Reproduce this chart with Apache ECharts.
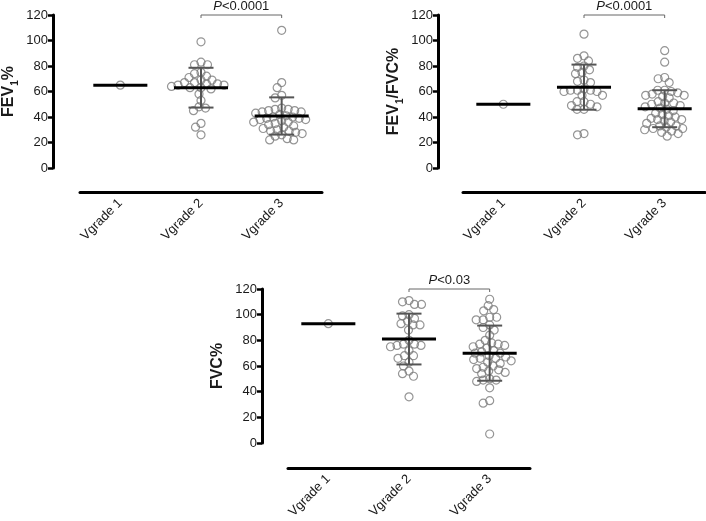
<!DOCTYPE html>
<html><head><meta charset="utf-8">
<script src="https://cdn.jsdelivr.net/npm/echarts@6/dist/echarts.min.js"></script>
<style>html,body{margin:0;padding:0;background:#fff}#c{width:706px;height:521px}</style>
</head><body><div id="c"></div><script>
// ---------- data ----------
const categories = ['Vgrade 1', 'Vgrade 2', 'Vgrade 3'];
const yMin = 0, yMax = 120, yStep = 20;

// FEV1%
const fev1G1 = [65];
const fev1G2 = [99, 83, 81, 81, 75, 74, 72, 71, 69, 69, 67, 67, 66, 66, 65, 65, 64, 63, 63, 62, 58, 53, 48, 47, 45, 35, 32, 26];
const fev1G3 = [108, 67, 63, 57, 55, 47, 46, 46, 45, 45, 44, 44, 43, 42, 41, 40, 40, 39, 39, 38, 38, 37, 36, 36, 35, 34, 33, 32, 31, 30, 29, 29, 28, 27, 26, 25, 23, 22, 22];
const fev1Mean = [65, 63.0, 40.8];
const fev1SD = [0, 15.6, 14.6];

// FEV1/FVC%
const ratioG1 = [50];
const ratioG2 = [105, 88, 86, 84, 80, 79, 77, 75, 74, 69, 68, 67, 62, 61, 61, 61, 60, 60, 57, 57, 52, 52, 50, 49, 48, 46, 46, 27, 26];
const ratioG3 = [92, 83, 71, 70, 67, 61, 61, 60, 59, 58, 57, 57, 56, 55, 52, 51, 51, 50, 49, 48, 47, 46, 45, 43, 42, 41, 40, 39, 38, 38, 37, 36, 35, 33, 33, 32, 31, 31, 30, 29, 28, 27, 25];
const ratioMean = [50, 63.4, 46.5];
const ratioSD = [0, 17.7, 14.5];

// FVC%
const fvcG1 = [93];
const fvcG2 = [111, 110, 108, 108, 100, 99, 97, 95, 93, 92, 92, 88, 80, 77, 77, 76, 76, 75, 72, 68, 68, 66, 63, 60, 56, 54, 52, 36];
const fvcG3 = [112, 107, 104, 103, 98, 98, 96, 96, 92, 90, 88, 84, 80, 78, 77, 77, 76, 75, 74, 72, 71, 70, 70, 68, 67, 66, 66, 65, 64, 63, 62, 60, 59, 58, 57, 56, 55, 54, 50, 49, 49, 48, 43, 33, 31, 7];
const fvcMean = [93, 81.0, 70.0];
const fvcSD = [0, 19.8, 21.5];

const pLabels = ['<0.0001', '<0.0001', '<0.03'];
const yTitles = ['{b|FEV}{s|1}{b|%}', '{b|FEV}{s|1}{b|/FVC%}', '{b|FVC%}'];

// ---------- layout ----------
const FONT = 'Liberation Sans, Arial, Helvetica, sans-serif';
const TXT = '#1a1a1a';
const panels = [
  { groups: [fev1G1, fev1G2, fev1G3], mean: fev1Mean, sd: fev1SD, grid: { left: 80, top: 15, width: 242, height: 153 }, yOff: 27, xOff: 24 },
  { groups: [ratioG1, ratioG2, ratioG3], mean: ratioMean, sd: ratioSD, grid: { left: 463, top: 15, width: 242, height: 153 }, yOff: 25, xOff: 24 },
  { groups: [fvcG1, fvcG2, fvcG3], mean: fvcMean, sd: fvcSD, grid: { left: 288, top: 289, width: 242, height: 155 }, yOff: 26, xOff: 25 }
];

// beeswarm placement (computed, not typed)
function swarm(values, gi, pxY, pxX, diam) {
  const placed = [], out = [];
  const sorted = values.slice().sort((a, b) => b - a);
  for (const v of sorted) {
    const y = v * pxY;
    let off = 0;
    for (let k = 0; k < 2000; k++) {
      const cand = (k % 2 === 0 ? 1 : -1) * Math.ceil(k / 2) * 0.5;
      if (placed.every(p => (p.x - cand) ** 2 + (p.y - y) ** 2 >= diam * diam)) { off = cand; break; }
    }
    placed.push({ x: off, y });
    out.push([gi + off / pxX, v]);
  }
  return out;
}

const grid = [], xAxis = [], yAxis = [], series = [];
panels.forEach((p, i) => {
  grid.push(p.grid);
  xAxis.push({
    type: 'category', gridIndex: i, data: categories, offset: p.xOff,
    axisLine: { onZero: false, lineStyle: { color: '#000', width: 3 } },
    axisTick: { alignWithLabel: true, length: 6, lineStyle: { color: '#000', width: 2.5 } },
    axisLabel: { rotate: 45, fontSize: 13, color: TXT, fontFamily: FONT, margin: 9 },
    splitLine: { show: false }
  });
  xAxis.push({ type: 'value', gridIndex: i, min: -0.5, max: 2.5, show: false, splitLine: { show: false } });
  yAxis.push({
    type: 'value', gridIndex: i, min: yMin, max: yMax, interval: yStep, offset: p.yOff,
    name: yTitles[i], nameLocation: 'middle', nameGap: 36,
    nameTextStyle: {
      rich: {
        b: { fontSize: 16, fontWeight: 'bold', color: TXT, fontFamily: FONT },
        s: { fontSize: 10, fontWeight: 'bold', color: TXT, fontFamily: FONT, verticalAlign: 'bottom', padding: [0, 0, -3, 0] }
      }
    },
    axisLine: { show: true, onZero: false, lineStyle: { color: '#000', width: 3 } },
    axisTick: { show: true, length: 5, lineStyle: { color: '#000', width: 2.5 } },
    axisLabel: { fontSize: 13, color: TXT, fontFamily: FONT, margin: 5 },
    splitLine: { show: false }
  });
  const pxY = p.grid.height / (yMax - yMin);
  const pxX = p.grid.width / categories.length;
  const pts = [];
  p.groups.forEach((g, gi) => pts.push(...swarm(g, gi, pxY, pxX, 6.6)));
  series.push({
    type: 'scatter', xAxisIndex: 2 * i + 1, yAxisIndex: i, data: pts,
    symbol: 'circle', symbolSize: 8, z: 2,
    itemStyle: { color: 'rgba(255,255,255,0)', borderColor: '#7a7a7a', borderWidth: 1.2 },
    emphasis: { disabled: true }
  });
  series.push({
    type: 'custom', xAxisIndex: 2 * i + 1, yAxisIndex: i, z: 3,
    data: p.mean.map((m, gi) => [gi, m, p.sd[gi]]),
    renderItem: (params, api) => {
      const x = api.value(0), m = api.value(1), s = api.value(2);
      const hw = 0.335, cw = 0.155;
      const L = api.coord([x - hw, m]), R = api.coord([x + hw, m]);
      const ch = [];
      if (s > 0) {
        const t = api.coord([x, m + s]), b = api.coord([x, m - s]);
        const tl = api.coord([x - cw, m + s]), tr = api.coord([x + cw, m + s]);
        const bl = api.coord([x - cw, m - s]), br = api.coord([x + cw, m - s]);
        const st = { stroke: '#555', lineWidth: 2 };
        ch.push({ type: 'line', shape: { x1: t[0], y1: t[1], x2: b[0], y2: b[1] }, style: st });
        ch.push({ type: 'line', shape: { x1: tl[0], y1: tl[1], x2: tr[0], y2: tr[1] }, style: st });
        ch.push({ type: 'line', shape: { x1: bl[0], y1: bl[1], x2: br[0], y2: br[1] }, style: st });
      }
      ch.push({ type: 'line', shape: { x1: L[0], y1: L[1], x2: R[0], y2: R[1] }, style: { stroke: '#000', lineWidth: 3 } });
      return { type: 'group', children: ch };
    }
  });
  series.push({
    type: 'custom', xAxisIndex: 2 * i + 1, yAxisIndex: i, z: 4,
    data: [[1, 2, yMax]],
    renderItem: (params, api) => {
      const a = api.coord([api.value(0), api.value(2)]), b = api.coord([api.value(1), api.value(2)]);
      return {
        type: 'group', children: [
          { type: 'polyline', shape: { points: [[a[0], a[1] + 3], [a[0], a[1]], [b[0], b[1]], [b[0], b[1] + 3]] }, style: { stroke: '#666', lineWidth: 1, fill: null } },
          { type: 'text', x: (a[0] + b[0]) / 2, y: a[1] - 2, style: {
              text: '{i|P}{n|' + pLabels[i] + '}', align: 'center', verticalAlign: 'bottom',
              rich: { i: { fontStyle: 'italic', fontSize: 13, fontFamily: FONT, fill: TXT }, n: { fontSize: 13, fontFamily: FONT, fill: TXT } }
          } }
        ]
      };
    }
  });
});

const chart = echarts.init(document.getElementById('c'), null, { renderer: 'canvas' });
chart.setOption({ animation: false, backgroundColor: '#fff', grid, xAxis, yAxis, series });
</script></body></html>
